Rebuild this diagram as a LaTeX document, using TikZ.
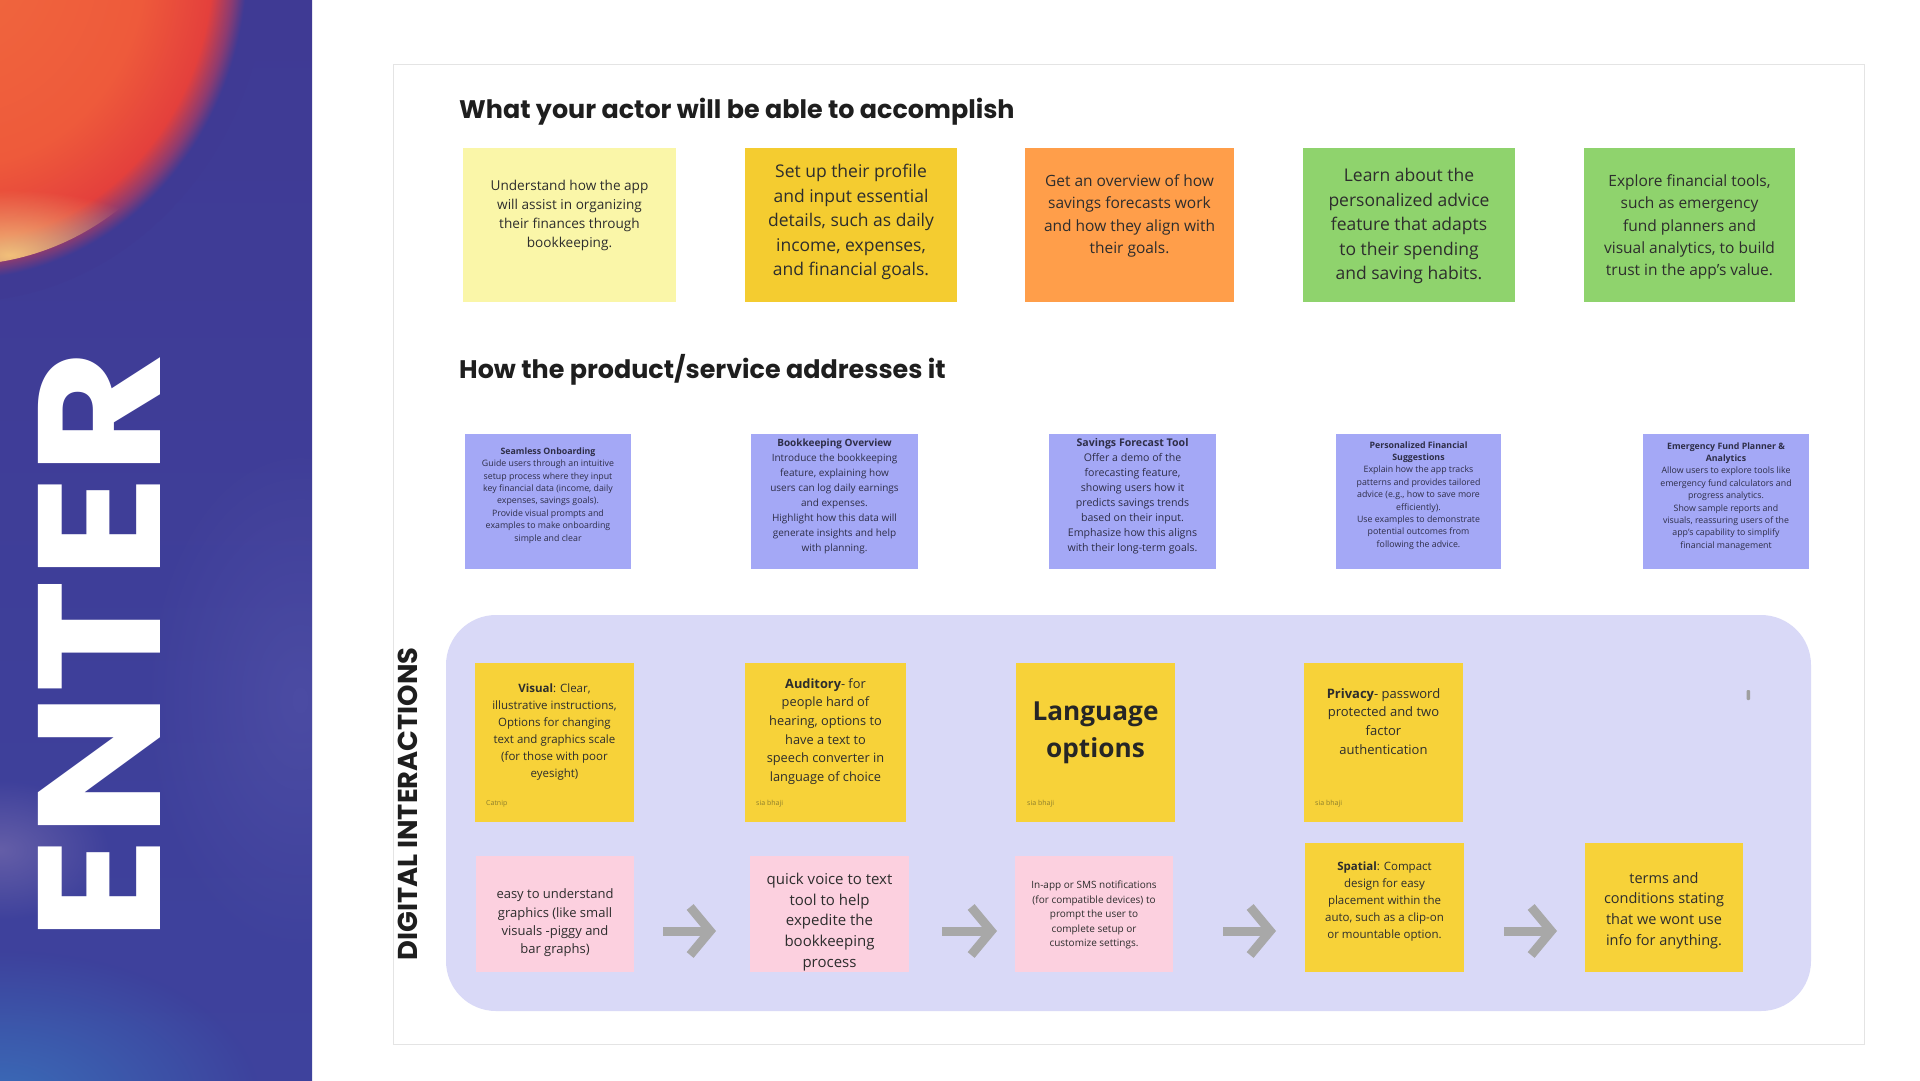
\documentclass[tikz,border=0pt]{standalone}
\usepackage{fontspec}
\setmainfont{Open Sans}
\newfontfamily\popfont{Poppins}
\usetikzlibrary{arrows.meta,fadings,calc}
\definecolor{bandtop}{HTML}{3F3A94}
\definecolor{bandmid}{HTML}{4A48A8}
\definecolor{bandbot}{HTML}{3E429D}
\definecolor{blobA}{HTML}{F0683E}
\definecolor{blobB}{HTML}{EE5A3B}
\definecolor{blobC}{HTML}{E4403C}
\definecolor{blobD}{HTML}{8E3B70}
\definecolor{peach}{HTML}{F2C07A}
\definecolor{glow}{HTML}{6E66AB}
\definecolor{cornerblue}{HTML}{3A6CB8}
\definecolor{cardline}{HTML}{E4E4E4}
\definecolor{headtext}{HTML}{1E1E1E}
\definecolor{stext}{HTML}{2D2D2D}
\definecolor{ptext}{HTML}{2E2E48}
\definecolor{lightyellow}{HTML}{FAF6A8}
\definecolor{gold}{HTML}{F4CC30}
\definecolor{orangest}{HTML}{FF9E4A}
\definecolor{greenst}{HTML}{8FD36D}
\definecolor{periwinkle}{HTML}{A4A8F6}
\definecolor{lavender}{HTML}{D9D9F7}
\definecolor{yellowst}{HTML}{F7D239}
\definecolor{pinkst}{HTML}{FCD0DF}
\definecolor{arrowgray}{HTML}{A8A8A8}
\definecolor{authorc}{HTML}{8C7D2C}
\pgfdeclareradialshading{blobshade}{\pgfpointorigin}{color(0bp)=(blobA); color(15bp)=(blobB); color(20.5bp)=(blobC); color(22.2bp)=(blobD); color(23.3bp)=(bandtop); color(25bp)=(bandtop)}
\tikzfading[name=softspot, inner color=transparent!0, outer color=transparent!100]
\newcommand{\stfs}[2]{\fontsize{#1}{#2}\selectfont}
\begin{document}
\begin{tikzpicture}[x=1pt,y=-1pt,
  box/.style={rectangle, draw=none, inner sep=0pt, outer sep=0pt},
  txt/.style={inner sep=0pt, align=center, text=stext},
  ptxt/.style={inner sep=0pt, align=center, text=ptext},
  head/.style={inner sep=0pt, anchor=west, text=headtext, font=\popfont\bfseries\fontsize{25.4}{30}\selectfont},
  author/.style={inner sep=0pt, anchor=west, text=authorc, font=\stfs{7}{8}},
  flow/.style={draw=arrowgray, line width=9pt, -{Straight Barb[length=20pt, width=48pt]}},
]
\useasboundingbox (0,0) rectangle (1920,1080);
\fill[white] (0,0) rectangle (1920,1080);
% left band
\begin{scope}
  \clip (0,0) rectangle (312,1080);
  \shade[top color=bandtop, middle color=bandmid, bottom color=bandbot] (0,0) rectangle (312,1080);
  \fill[bandmid!85!white, path fading=softspot, opacity=0.35] (300,700) ellipse (160 and 260);
  \fill[glow, path fading=softspot, opacity=0.8] (0,850) ellipse (110 and 70);
  \fill[cornerblue, path fading=softspot] (0,1100) ellipse (260 and 150);
  \shade[shading=blobshade] (-40,-40) ellipse (308 and 342);
  \begin{scope}
    \clip (-40,-40) ellipse (275 and 305);
    \fill[peach, path fading=softspot] (10,255) ellipse (160 and 65);
  \end{scope}
\end{scope}
\node[inner sep=0pt, text=white, rotate=90, font=\popfont\bfseries\fontsize{174}{174}\selectfont] (enter) at (99,646) {\scalebox{1.105}[1]{ENTER}};
% card
\draw[cardline, line width=1pt] (393,64) rectangle (1864,1044);
\node[head] (h1) at (459,112) {What your actor will be able to accomplish};
\node[head] (h2) at (459,370) {How the product/service addresses it};
% row 1
\node[box, fill=lightyellow, minimum width=213pt, minimum height=154pt] (r1a) at (569.5,225) {};
\node[txt, font=\stfs{13.6}{19}] (r1at) at ($(r1a.center)+(0,-10)$) {Understand how the app\\will assist in organizing\\their finances through\\bookkeeping.};
\node[box, fill=gold, minimum width=212pt, minimum height=154pt] (r1b) at (851,225) {};
\node[txt, font=\stfs{17.5}{24.5}] (r1bt) at ($(r1b.center)+(0,-3)$) {Set up their profile\\and input essential\\details, such as daily\\income, expenses,\\and financial goals.};
\node[box, fill=orangest, minimum width=209pt, minimum height=154pt] (r1c) at (1129.5,225) {};
\node[txt, font=\stfs{15.5}{22.6}] (r1ct) at ($(r1c.center)+(0,-9)$) {Get an overview of how\\savings forecasts work\\and how they align with\\their goals.};
\node[box, fill=greenst, minimum width=212pt, minimum height=154pt] (r1d) at (1409,225) {};
\node[txt, font=\stfs{17.5}{24.5}] (r1dt) at ($(r1d.center)+(0,1)$) {Learn about the\\personalized advice\\feature that adapts\\to their spending\\and saving habits.};
\node[box, fill=greenst, minimum width=211pt, minimum height=154pt] (r1e) at (1689.5,225) {};
\node[txt, font=\stfs{15.5}{22.3}] (r1et) at ($(r1e.center)+(0,2)$) {Explore financial tools,\\such as emergency\\fund planners and\\visual analytics, to build\\trust in the app's value.};
% row 2
\node[box, fill=periwinkle, minimum width=166pt, minimum height=135pt] (r2a) at (548,501.5) {};
\node[ptxt, font=\stfs{8.8}{12.4}] (r2at) at ($(r2a.center)+(0,-6)$) {\textbf{Seamless Onboarding}\\Guide users through an intuitive\\setup process where they input\\key financial data (income, daily\\expenses, savings goals).\\Provide visual prompts and\\examples to make onboarding\\simple and clear};
\node[box, fill=periwinkle, minimum width=167pt, minimum height=135pt] (r2b) at (834.5,501.5) {};
\node[ptxt, font=\stfs{10}{15}] (r2bt) at ($(r2b.center)+(0,-5)$) {\textbf{Bookkeeping Overview}\\Introduce the bookkeeping\\feature, explaining how\\users can log daily earnings\\and expenses.\\Highlight how this data will\\generate insights and help\\with planning.};
\node[box, fill=periwinkle, minimum width=167pt, minimum height=135pt] (r2c) at (1132.5,501.5) {};
\node[ptxt, font=\stfs{10.6}{15}] (r2ct) at ($(r2c.center)+(0,-5)$) {\textbf{Savings Forecast Tool}\\Offer a demo of the\\forecasting feature,\\showing users how it\\predicts savings trends\\based on their input.\\Emphasize how this aligns\\with their long-term goals.};
\node[box, fill=periwinkle, minimum width=165pt, minimum height=135pt] (r2d) at (1418.5,501.5) {};
\node[ptxt, font=\stfs{8.8}{12.4}] (r2dt) at ($(r2d.center)+(0,-6)$) {\textbf{Personalized Financial}\\\textbf{Suggestions}\\Explain how the app tracks\\patterns and provides tailored\\advice (e.g., how to save more\\efficiently).\\Use examples to demonstrate\\potential outcomes from\\following the advice.};
\node[box, fill=periwinkle, minimum width=166pt, minimum height=135pt] (r2e) at (1726,501.5) {};
\node[ptxt, font=\stfs{8.8}{12.4}] (r2et) at ($(r2e.center)+(0,-5)$) {\textbf{Emergency Fund Planner \&}\\\textbf{Analytics}\\Allow users to explore tools like\\emergency fund calculators and\\progress analytics.\\Show sample reports and\\visuals, reassuring users of the\\app's capability to simplify\\financial management};
% digital interactions
\node[box, fill=lavender, rounded corners=50pt, minimum width=1365pt, minimum height=396pt] (di) at (1128.5,813) {};
\node[inner sep=0pt, rotate=90, text=headtext, font=\popfont\bfseries\fontsize{27.3}{27.3}\selectfont] (dilabel) at (407.5,804) {DIGITAL INTERACTIONS};
% row 3
\node[box, fill=yellowst, minimum width=159pt, minimum height=159pt] (r3a) at (554.5,742.5) {};
\node[txt, font=\stfs{11.5}{17}] (r3at) at ($(r3a.center)+(0,-11)$) {\textbf{Visual}: Clear,\\illustrative instructions,\\Options for changing\\text and graphics scale\\(for those with poor\\eyesight)};
\node[author] (r3aa) at ($(r3a.south west)+(11,-18)$) {Catnip};
\node[box, fill=yellowst, minimum width=161pt, minimum height=159pt] (r3b) at (825.5,742.5) {};
\node[txt, font=\stfs{12.8}{18.6}] (r3bt) at ($(r3b.center)+(0,-11)$) {\textbf{Auditory}- for\\people hard of\\hearing, options to\\have a text to\\speech converter in\\language of choice};
\node[author] (r3ba) at ($(r3b.south west)+(11,-18)$) {sia bhaji};
\node[box, fill=yellowst, minimum width=159pt, minimum height=159pt] (r3c) at (1095.5,742.5) {};
\node[txt, font=\bfseries\stfs{26.2}{36.7}, text=black!85] (r3ct) at ($(r3c.center)+(0,-10)$) {Language\\options};
\node[author] (r3ca) at ($(r3c.south west)+(11,-18)$) {sia bhaji};
\node[box, fill=yellowst, minimum width=159pt, minimum height=159pt] (r3d) at (1383.5,742.5) {};
\node[txt, font=\stfs{13}{18.8}] (r3dt) at ($(r3d.center)+(0,-21)$) {\textbf{Privacy}- password\\protected and two\\factor\\authentication};
\node[author] (r3da) at ($(r3d.south west)+(11,-18)$) {sia bhaji};
\fill[gray!75, rounded corners=1pt] (1746.5,690) rectangle (1750,700);
% row 4
\node[box, fill=pinkst, minimum width=158pt, minimum height=116pt] (p1) at (555,914) {};
\node[txt, font=\stfs{13}{18.4}] (p1t) at ($(p1.center)+(0,9)$) {easy to understand\\graphics (like small\\visuals -piggy and\\bar graphs)};
\node[box, fill=pinkst, minimum width=159pt, minimum height=116pt] (p2) at (829.5,914) {};
\node[txt, font=\stfs{15}{20.8}] (p2t) at ($(p2.center)+(0,8)$) {quick voice to text\\tool to help\\expedite the\\bookkeeping\\process};
\node[box, fill=pinkst, minimum width=158pt, minimum height=116pt] (p3) at (1094,914) {};
\node[txt, font=\stfs{10}{14.4}] (p3t) at ($(p3.center)+(0,1)$) {In-app or SMS notifications\\(for compatible devices) to\\prompt the user to\\complete setup or\\customize settings.};
\node[box, fill=yellowst, minimum width=159pt, minimum height=129pt] (y4) at (1384.5,907.5) {};
\node[txt, font=\stfs{11.5}{17}] (y4t) at ($(y4.center)+(0,-6)$) {\textbf{Spatial}: Compact\\design for easy\\placement within the\\auto, such as a clip-on\\or mountable option.};
\node[box, fill=yellowst, minimum width=158pt, minimum height=129pt] (y5) at (1664,907.5) {};
\node[txt, font=\stfs{14.5}{20.8}] (y5t) at ($(y5.center)+(0,3)$) {terms and\\conditions stating\\that we wont use\\info for anything.};
% arrows
\draw[flow] ($(p1.east)+(29,17)$) -- ($(p2.west)+(-34,17)$);
\draw[flow] ($(p2.east)+(33,17)$) -- ($(p3.west)+(-18,17)$);
\draw[flow] ($(p3.east)+(50,17)$) -- ($(y4.west)+(-29,23.5)$);
\draw[flow] ($(y4.east)+(40,23.5)$) -- ($(y5.west)+(-28,23.5)$);
\end{tikzpicture}
\end{document}
